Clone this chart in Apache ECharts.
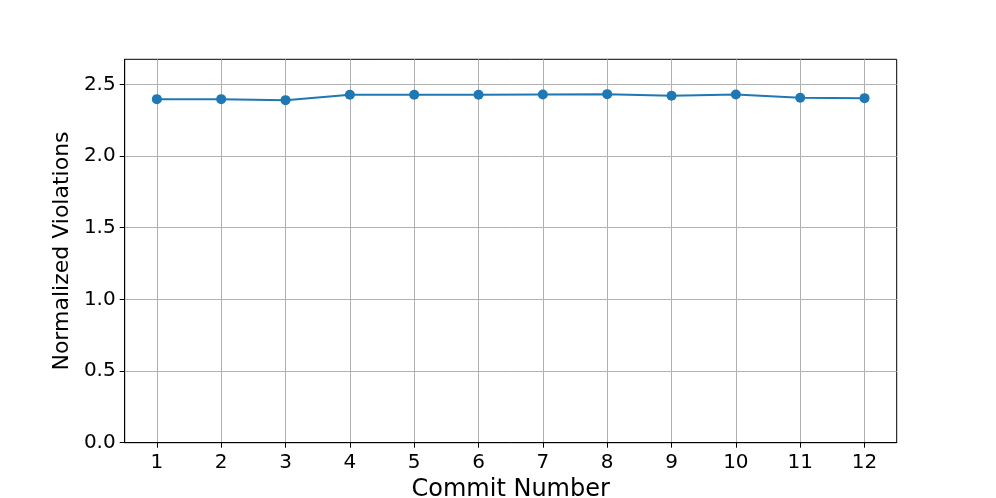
<!DOCTYPE html>
<html>
<head>
<meta charset="utf-8">
<script src="https://cdn.jsdelivr.net/npm/echarts@6/dist/echarts.min.js"></script>
<style>html,body{margin:0;padding:0;background:#fff;}#c{width:996px;height:498px;}</style>
</head>
<body>
<div id="c"></div>
<script>
const commits = [1, 2, 3, 4, 5, 6, 7, 8, 9, 10, 11, 12];
const violations = [2.397, 2.397, 2.390, 2.428, 2.428, 2.428, 2.430, 2.432, 2.421, 2.430, 2.407, 2.404];
const yTicks = [0, 0.5, 1.0, 1.5, 2.0, 2.5];

const chart = echarts.init(document.getElementById('c'), null, {renderer: 'canvas'});
const font = 'DejaVu Sans';
chart.setOption({
  animation: false,
  backgroundColor: '#fff',
  grid: {left: 124.7, right: 99.3, top: 59.3, bottom: 55.3, outerBoundsMode: 'none', containLabel: false,
         show: true, borderColor: '#000', borderWidth: 1, backgroundColor: 'transparent'},
  xAxis: {
    type: 'value', min: 0.5, max: 12.5,
    name: 'Commit Number', nameLocation: 'middle', nameGap: 35,
    nameTextStyle: {fontFamily: font, fontSize: 24, color: '#000'},
    axisLine: {show: true, onZero: false, lineStyle: {color: '#000', width: 1}},
    axisTick: {show: true, inside: false, length: 5, customValues: commits, lineStyle: {color: '#000'}},
    axisLabel: {customValues: commits, margin: 10, fontFamily: font, fontSize: 20, color: '#000'},
    splitLine: {show: true, customValues: commits, lineStyle: {color: '#b0b0b0', width: 1}}
  },
  yAxis: {
    type: 'value', min: 0, max: 2.675,
    name: 'Normalized Violations', nameLocation: 'middle', nameGap: 49, nameRotate: 90,
    nameTextStyle: {fontFamily: font, fontSize: 22, color: '#000'},
    axisLine: {show: true, lineStyle: {color: '#000', width: 1}},
    axisTick: {show: true, inside: false, length: 5, customValues: yTicks, lineStyle: {color: '#000'}},
    axisLabel: {customValues: yTicks, margin: 9, fontFamily: font, fontSize: 20, color: '#000', formatter: v => v.toFixed(1)},
    splitLine: {show: true, customValues: yTicks, lineStyle: {color: '#b0b0b0', width: 1}}
  },
  series: [{
    type: 'line',
    data: commits.map((c, i) => [c, violations[i]]),
    symbol: 'circle', symbolSize: 10,
    itemStyle: {color: '#1f77b4'},
    lineStyle: {color: '#1f77b4', width: 2}
  }]
});
</script>
</body>
</html>
